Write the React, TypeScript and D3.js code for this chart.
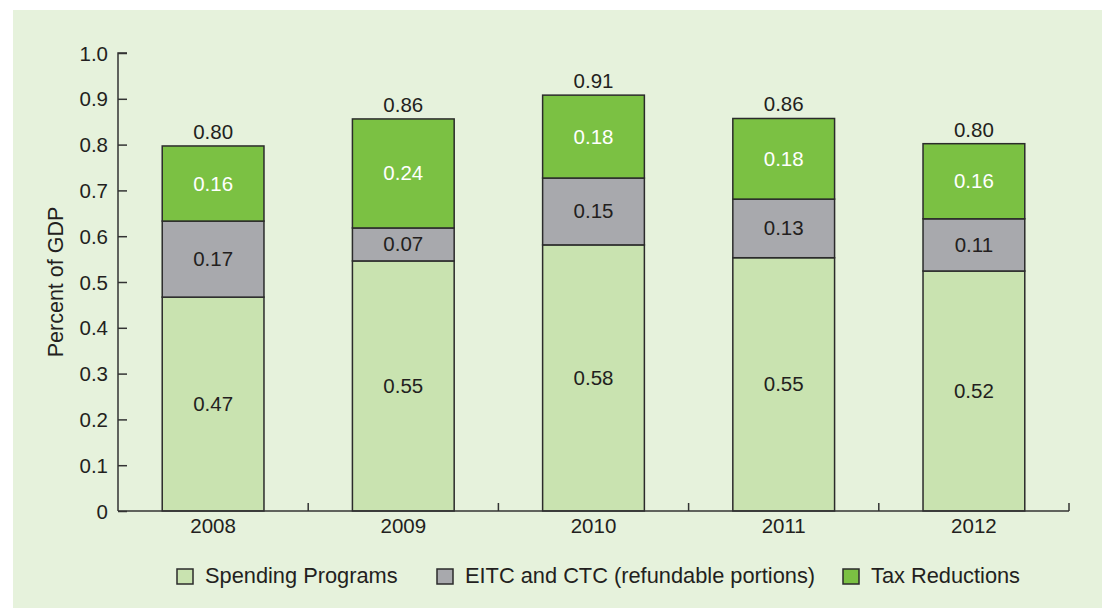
import * as d3 from "d3";
import React, { useRef, useEffect } from "react";

const years = ["2008", "2009", "2010", "2011", "2012"];
const spending = [0.467, 0.546, 0.581, 0.553, 0.524];
const eitc = [0.166, 0.072, 0.146, 0.128, 0.114];
const taxCuts = [0.164, 0.238, 0.181, 0.176, 0.164];
const seriesNames = ["Spending Programs", "EITC and CTC (refundable portions)", "Tax Reductions"];
const yTicks = [0, 0.1, 0.2, 0.3, 0.4, 0.5, 0.6, 0.7, 0.8, 0.9, 1.0];

const colors = ["#c9e3b0", "#a8a9ad", "#7bc143"];
const textColors = ["#231f20", "#231f20", "#ffffff"];
const ink = "#231f20";
const font = "'Liberation Sans', Arial, sans-serif";

const W = 1102;
const H = 609;

const App = () => {
  const ref = useRef<SVGSVGElement>(null);

  useEffect(() => {
    const svg = d3.select(ref.current);
    svg.selectAll("*").remove();

    // panel
    svg.append("rect").attr("x", 13).attr("y", 10).attr("width", W - 13).attr("height", H - 11).attr("fill", "#e6f2dc");

    const left = 118, right = 1069, top = 53, bottom = 511;
    const x = d3.scaleBand().domain(years).range([left, right]).paddingInner(0.465).paddingOuter(0.2325);
    const y = d3.scaleLinear().domain([0, 1]).range([bottom, top]);

    const rows = years.map((yr, i) => ({ year: yr, s0: spending[i], s1: eitc[i], s2: taxCuts[i] }));
    const stack = d3.stack<any>().keys(["s0", "s1", "s2"]);
    const layers = stack(rows);

    const g = svg.append("g");

    layers.forEach((layer, li) => {
      const lg = g.append("g");
      lg.selectAll("rect")
        .data(layer)
        .enter()
        .append("rect")
        .attr("x", (d: any) => x(d.data.year)!)
        .attr("width", x.bandwidth())
        .attr("y", (d) => y(d[1]))
        .attr("height", (d) => y(d[0]) - y(d[1]))
        .attr("fill", colors[li])
        .attr("stroke", "#2b2b2b")
        .attr("stroke-width", 1.5);
      lg.selectAll("text")
        .data(layer)
        .enter()
        .append("text")
        .attr("x", (d: any) => x(d.data.year)! + x.bandwidth() / 2)
        .attr("y", (d) => (y(d[0]) + y(d[1])) / 2 + 7)
        .attr("text-anchor", "middle")
        .attr("font-family", font)
        .attr("font-size", 20.5)
        .attr("fill", textColors[li])
        .text((d) => (d[1] - d[0]).toFixed(2));
    });

    // totals
    const last = layers[layers.length - 1];
    g.selectAll(".total")
      .data(last)
      .enter()
      .append("text")
      .attr("x", (d: any) => x(d.data.year)! + x.bandwidth() / 2)
      .attr("y", (d) => y(d[1]) - 7)
      .attr("text-anchor", "middle")
      .attr("font-family", font)
      .attr("font-size", 20.5)
      .attr("fill", ink)
      .text((d) => d[1].toFixed(2));

    // y axis
    const yAxis = d3.axisLeft(y).tickValues(yTicks).tickSize(-9).tickPadding(10)
      .tickFormat((d) => (d === 0 ? "0" : d3.format(".1f")(d as number)));
    const ya = svg.append("g").attr("transform", `translate(${left},0)`).call(yAxis);
    ya.select(".domain").attr("stroke", "#333").attr("stroke-width", 1.5).attr("d", `M9,${top}H0V${bottom}`);
    ya.selectAll(".tick line").attr("stroke", "#333").attr("stroke-width", 1.5);
    ya.selectAll(".tick text").attr("font-family", font).attr("font-size", 20.5).attr("fill", ink).attr("dy", "0.35em");

    // x axis
    const xa = svg.append("g");
    xa.append("line").attr("x1", left).attr("x2", right).attr("y1", bottom).attr("y2", bottom).attr("stroke", "#333").attr("stroke-width", 1.5);
    const step = x.step();
    const bounds = d3.range(1, years.length + 1).map((i) => left + i * step);
    xa.selectAll(".xt")
      .data(bounds)
      .enter()
      .append("line")
      .attr("x1", (d) => d)
      .attr("x2", (d) => d)
      .attr("y1", bottom)
      .attr("y2", bottom - 8)
      .attr("stroke", "#333")
      .attr("stroke-width", 1.5);
    xa.selectAll("text")
      .data(years)
      .enter()
      .append("text")
      .attr("x", (d) => x(d)! + x.bandwidth() / 2)
      .attr("y", 533)
      .attr("text-anchor", "middle")
      .attr("font-family", font)
      .attr("font-size", 20.5)
      .attr("fill", ink)
      .text((d) => d);

    // y title
    svg.append("text")
      .attr("transform", `translate(63,282) rotate(-90)`)
      .attr("text-anchor", "middle")
      .attr("font-family", font)
      .attr("font-size", 21.5)
      .attr("fill", ink)
      .text("Percent of GDP");

    // legend
    const legendX = [177, 437, 843];
    const lg = svg.append("g");
    seriesNames.forEach((name, i) => {
      lg.append("rect").attr("x", legendX[i]).attr("y", 569).attr("width", 16).attr("height", 15)
        .attr("fill", colors[i]).attr("stroke", "#2b2b2b").attr("stroke-width", 1.5);
      lg.append("text").attr("x", legendX[i] + 28).attr("y", 583)
        .attr("font-family", font).attr("font-size", 21.8).attr("fill", ink).text(name);
    });
  }, []);

  return (
    <div style={{ position: "absolute", left: 0, top: 0 }}>
      <svg ref={ref} width={W} height={H} style={{ display: "block", background: "#fff" }} />
    </div>
  );
};

export default App;
